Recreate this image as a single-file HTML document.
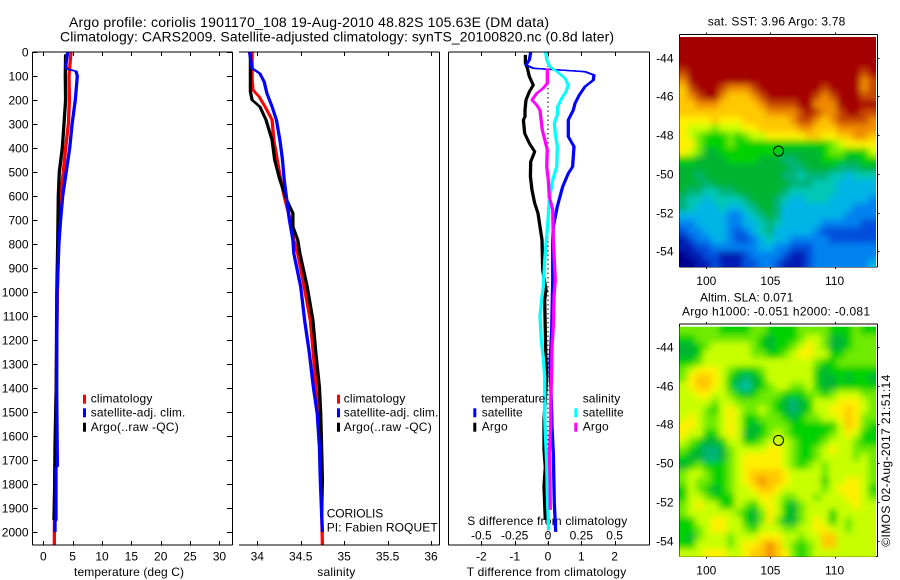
<!DOCTYPE html>
<html>
<head>
<meta charset="utf-8">
<title>Argo profile</title>
<style>
html,body{margin:0;padding:0;background:#fff;}
svg{display:block;}
text{font-family:"Liberation Sans",sans-serif;font-size:12px;fill:#000;}
.title{font-size:14px;}
</style>
</head>
<body>
<svg id="chart" width="900" height="580" viewBox="0 0 900 580" xmlns="http://www.w3.org/2000/svg">
<defs>
<clipPath id="clipMap1"><rect x="679.5" y="37" width="196.5" height="230"/></clipPath>
<clipPath id="clipMap2"><rect x="679.5" y="326.7" width="196.5" height="230"/></clipPath>
<clipPath id="clipP3"><rect x="448" y="52" width="201" height="493"/></clipPath>
<filter id="soft" x="-5%" y="-5%" width="110%" height="110%"><feGaussianBlur stdDeviation="3.2"/></filter>
</defs>
<text class="title" x="69" y="27" textLength="480">Argo profile: coriolis 1901170_108 19-Aug-2010 48.82S 105.63E (DM data)</text>
<text class="title" x="60" y="41.5" textLength="554">Climatology: CARS2009. Satellite-adjusted climatology: synTS_20100820.nc (0.8d later)</text>

<text x="74" y="576" textLength="110">temperature (deg C)</text>
<text x="317.3" y="576" textLength="38">salinity</text>
<text x="466.7" y="576" textLength="159.5">T difference from climatology</text>
<text x="467.3" y="525" textLength="160">S difference from climatology</text>

<g id="series-layer"></g>
<g id="axes-layer"></g>

<g>
<rect x="83" y="394.7" width="3" height="9" fill="#ff0000"/>
<rect x="83" y="408.3" width="3" height="9" fill="#0000ff"/>
<rect x="83" y="422.7" width="3" height="9" fill="#000000"/>
<text x="90.7" y="402.7" textLength="61.7">climatology</text>
<text x="90.7" y="416.7" textLength="94.7">satellite-adj. clim.</text>
<text x="90.7" y="431" textLength="88">Argo(..raw -QC)</text>
</g>
<g>
<rect x="337" y="394.7" width="3" height="9" fill="#ff0000"/>
<rect x="337" y="408.3" width="3" height="9" fill="#0000ff"/>
<rect x="337" y="422.7" width="3" height="9" fill="#000000"/>
<text x="343.7" y="402.7" textLength="61.7">climatology</text>
<text x="343.7" y="416.7" textLength="94.7">satellite-adj. clim.</text>
<text x="343.7" y="431" textLength="88">Argo(..raw -QC)</text>
<text x="326.7" y="517.7" textLength="56.6">CORIOLIS</text>
<text x="326.7" y="531.7" textLength="111">PI: Fabien ROQUET</text>
</g>
<g>
<text x="481.3" y="402.7" textLength="64">temperature</text>
<text x="582.7" y="402.7" textLength="37.5">salinity</text>
<rect x="473.3" y="408.3" width="3" height="9" fill="#0000ff"/>
<rect x="473.3" y="422.7" width="3" height="9" fill="#000000"/>
<rect x="574.3" y="408.3" width="3" height="9" fill="#00ffff"/>
<rect x="574.3" y="422.7" width="3" height="9" fill="#ff00ff"/>
<text x="481.7" y="416.7" textLength="41">satellite</text>
<text x="481.7" y="430.7" textLength="26">Argo</text>
<text x="582.7" y="416.7" textLength="41">satellite</text>
<text x="582.7" y="430.7" textLength="26">Argo</text>
</g>

<text x="707.7" y="25.3" textLength="137.6">sat. SST: 3.96 Argo: 3.78</text>
<text x="700" y="301.7" textLength="93.3">Altim. SLA: 0.071</text>
<text x="682" y="315.3" textLength="188">Argo h1000: -0.051 h2000: -0.081</text>
<g id="map-layer"></g>
<text transform="translate(890,546.7) rotate(-90)" x="0" y="0" textLength="172">©IMOS 02-Aug-2017 21:51:14</text>
</svg>

<script>
// ---------- tick labels ----------
const depthTicks = [0,100,200,300,400,500,600,700,800,900,1000,1100,1200,1300,1400,1500,1600,1700,1800,1900,2000];
const tempTicks = [0,5,10,15,20,25,30];
const salinityTicks = ['34','34.5','35','35.5','36'];
const tDiffTicks = ['-2','-1','0','1','2'];
const sDiffTicks = ['-0.5','-0.25','0','0.25','0.5'];
const lonTicks = [100,105,110];
const latTicks = [-44,-46,-48,-50,-52,-54];

// ---------- temperature panel ----------
const tempClimDepth = [0,100,200,300,400,500,600,700,800,1000,1200,1400,1600,1800,2054];
const tempClim = [4.72,4.38,4.44,4.27,3.8,3.4,2.96,2.75,2.6,2.4,2.3,2.2,2.1,1.95,1.88];
const tempSatDepth = [0,50,70,80,100,200,300,400,500,600,700,800,1000,1200,1400,1600,1725,1730,1950,1955,2000];
const tempSat = [4.15,3.87,3.9,5.57,5.8,5.45,4.9,4.5,3.9,3.3,2.95,2.65,2.35,2.3,2.28,2.35,2.4,2.17,2.17,2.0,2.0];
const tempArgoDepth = [10,100,200,300,400,500,600,700,800,1000,1200,1400,1640,1800,1950];
const tempArgo = [3.8,3.75,3.8,3.53,3.24,2.73,2.56,2.5,2.45,2.3,2.25,2.2,2.0,1.95,1.82];

// ---------- salinity panel ----------
const salClimDepth = [0,115,158,186,228,283,367,450,533,617,700,783,839,978,1117,1256,1395,1506,1700,2054];
const salClim = [33.94,33.94,33.95,34.02,34.09,34.17,34.19,34.23,34.27,34.32,34.38,34.42,34.465,34.54,34.61,34.645,34.675,34.7,34.73,34.75];
const salSatDepth = [0,68,90,124,172,228,283,367,450,533,617,700,783,839,978,1117,1256,1395,1506,1644,1783,1922,2000];
const salSat = [33.91,33.94,34.03,34.08,34.11,34.17,34.22,34.26,34.29,34.31,34.34,34.37,34.41,34.42,34.5,34.545,34.6,34.645,34.69,34.715,34.725,34.74,34.75];
const salArgoDepth = [10,165,200,228,283,367,450,533,617,672,728,783,839,978,1117,1256,1395,1506,1644,1783,1922];
const salArgo = [33.92,33.92,33.94,34.03,34.10,34.17,34.20,34.26,34.34,34.41,34.41,34.465,34.49,34.575,34.64,34.675,34.715,34.73,34.74,34.75,34.74];

// ---------- difference panel ----------
const tDiffSatDepth = [0,33,54,68,75,82,96,117,144,179,214,242,283,353,394,478,506,561,644,728,783,950,1158,1297,1504,1561,1672,1879,1999];
const tDiffSat = [-0.52,-0.56,-0.66,-0.44,0.36,1.11,1.38,1.36,1.11,0.94,0.81,0.76,0.61,0.61,0.78,0.74,0.61,0.44,0.28,0.16,0.14,0.14,0.11,0.06,0.11,0.12,0.16,0.19,0.23];
const tDiffArgoDepth = [12,47,68,103,138,165,200,242,269,283,339,381,415,457,519,575,630,672,783,908,992,1033,1254,1353,1533,1658,1730,1811,1950];
const tDiffArgo = [-0.68,-0.68,-0.62,-0.56,-0.44,-0.56,-0.66,-0.69,-0.69,-0.74,-0.7,-0.56,-0.4,-0.52,-0.53,-0.48,-0.4,-0.3,-0.18,-0.16,-0.06,-0.1,-0.07,-0.04,-0.12,-0.12,-0.08,-0.12,-0.08];
const sDiffSatDepth = [0,33,62,82,110,138,165,193,228,262,297,339,394,478,533,617,700,783,867,978,1019,1103,1200,1275,1353,1519,1589,1714,1879,1992];
const sDiffSat = [-0.017,-0.01,0.015,0.07,0.128,0.152,0.135,0.103,0.073,0.07,0.047,0.055,0.07,0.065,0.035,0.01,0,-0.012,-0.025,-0.035,-0.045,-0.06,-0.05,-0.035,-0.025,-0.025,-0.02,-0.01,-0.003,0.005];
const sDiffArgoDepth = [68,130,151,172,200,221,242,283,325,367,408,478,533,603,658,783,950,1019,1144,1228,1325,1436,1561,1672,1769,1908];
const sDiffArgo = [-0.005,-0.005,-0.035,-0.085,-0.12,-0.085,-0.06,-0.052,-0.043,-0.023,-0.005,-0.01,0.002,0.01,0.035,0.04,0.055,0.045,0.04,0.03,0.028,0.022,0.02,0.01,0.015,0.017];

// ---------- map grids (colour-level values) ----------
const sstGrid = [
[15,15,15,15,15,15,15,15,15,15,15,15,15,15,15,15,15,15,15,15,15,15,15,15,15],
[15,15,15,15,15,15,15,15,15,15,15,15,15,15,15,15,15,15,15,15,15,15,15,15,15],
[15,15,15,15,15,15,15,15,15,15,15,15,15,15,15,15,15,15,15,15,15,15,15,15,15],
[15,15,15,15,15,15,15,15,15,15,15,15,15,15,15,15,15,15,15,15,15,15,15,15,15],
[14,15,15,15,15,15,15,15,15,15,15,15,15,15,15,15,15,15,15,15,15,15,15,14,15],
[13,15,15,15,15,15,15,15,15,15,15,15,15,15,15,15,15,15,15,15,15,15,15,13,14],
[12,14,15,15,15,14,13,13,13,14,15,15,15,15,15,15,15,15,14,15,15,15,15,13,14],
[12,13,14,15,15,13,12,12,12,13,14,15,15,15,15,15,15,14,13,14,15,15,15,14,14],
[12,12,13,13,13,12,12,12,12,12,13,14,14,14,14,15,15,13,13,13,15,15,15,15,15],
[12,12,12,12,12,12,12,12,12,12,12,13,13,13,13,14,15,14,13,13,14,15,15,14,14],
[11,11,11,11,12,11,11,11,12,12,12,12,12,12,13,14,14,13,12,13,14,14,14,14,13],
[11,10,10,10,9,10,10,10,11,11,12,12,12,12,12,13,13,12,12,12,13,13,13,13,13],
[11,10,9,8,8,8,9,8,9,10,10,11,11,11,11,11,12,12,11,11,12,12,13,13,12],
[11,11,9,8,8,8,9,8,8,8,8,8,8,8,8,8,8,8,8,9,10,11,11,11,11],
[11,10,9,7,7,8,8,8,8,8,8,8,8,7,7,7,7,7,8,9,9,8,8,8,10],
[8,8,7,7,7,7,8,8,8,8,7,7,7,6,6,7,7,7,8,8,8,7,7,8,8],
[7,7,7,7,7,7,7,7,7,7,7,7,7,7,6,6,7,7,7,7,6,6,6,7,7],
[7,7,6,7,7,7,7,7,7,7,7,7,7,6,6,5,6,6,6,5,5,4,5,5,5],
[7,7,7,6,7,7,7,7,7,7,7,7,7,7,6,6,6,5,5,5,4,4,4,4,4],
[7,6,6,5,5,6,6,7,7,7,7,7,7,6,5,5,5,5,5,5,4,4,4,4,4],
[6,5,5,4,5,5,5,5,6,7,7,7,6,5,4,4,5,5,5,4,4,4,4,4,3],
[6,5,4,4,4,5,4,4,5,6,7,7,6,4,4,4,4,4,4,4,4,4,3,3,3],
[4,4,4,4,4,4,3,3,4,5,6,7,6,4,4,4,4,4,4,4,4,3,3,3,3],
[3,3,4,4,4,4,3,3,4,4,5,6,5,4,4,4,4,4,3,3,3,3,3,2,2],
[2,3,3,4,4,4,3,2,3,4,5,6,4,4,4,4,4,3,2,2,2,2,2,2,2],
[1,2,3,3,4,4,3,2,2,3,4,5,4,4,3,3,3,3,3,2,2,2,2,2,2],
[1,1,2,2,3,3,3,3,3,3,4,4,3,3,2,2,2,3,3,3,3,3,3,3,3],
[0,1,1,2,2,1,1,1,2,3,3,3,3,2,1,1,2,3,3,3,3,3,3,3,3],
[0,0,1,1,2,1,1,1,2,2,3,3,2,1,1,1,2,3,3,3,3,3,3,3,4]
];
const slaGrid = [
[9,9,9,9,9,8,8,8,8,9,9,8,8,8,8,9,9,9,9,8,8,8,9,8,8],
[8,8,9,9,9,9,9,9,9,9,8,7,8,8,8,9,10,10,9,7,7,8,9,9,9],
[7,7,8,9,10,10,10,10,10,9,8,7,8,8,9,10,11,10,9,7,7,8,9,9,9],
[7,7,8,10,10,10,10,10,10,9,9,8,8,9,10,11,11,10,10,8,8,9,9,9,9],
[8,8,9,10,10,10,10,10,10,10,10,10,10,10,10,10,10,9,8,8,9,9,9,9,9],
[9,10,11,11,11,10,9,8,8,8,9,10,10,10,10,10,10,8,7,8,8,8,8,8,8],
[9,11,12,12,11,10,8,7,6,7,8,10,10,10,10,10,10,8,7,7,8,7,8,8,7],
[10,11,12,12,11,10,8,6,5,7,8,9,10,10,9,9,10,8,7,7,8,8,8,8,8],
[10,10,11,11,10,10,9,8,7,8,9,9,9,8,8,8,9,9,8,9,10,10,10,9,9],
[10,10,10,10,9,10,10,9,9,9,9,9,8,7,6,7,8,10,10,10,11,11,11,10,9],
[10,10,10,9,8,10,11,10,9,9,10,9,8,7,6,7,8,10,10,11,11,12,11,10,9],
[10,11,10,9,9,10,11,10,8,8,9,9,9,8,7,8,9,9,10,10,11,12,11,9,9],
[11,11,10,9,9,10,11,10,8,7,8,9,9,9,8,8,8,8,8,8,10,12,11,9,8],
[11,10,10,8,8,10,11,10,7,7,8,9,10,9,8,8,8,8,8,9,10,11,10,8,8],
[10,9,8,7,7,8,10,10,8,8,9,10,10,10,9,8,8,8,9,10,10,10,9,8,8],
[9,8,7,6,6,7,9,10,10,10,10,11,11,10,9,8,8,9,10,11,10,10,9,9,9],
[8,7,7,6,6,7,9,10,11,11,11,11,11,10,9,8,8,9,10,10,10,10,9,10,9],
[7,8,9,8,8,8,9,10,11,11,11,11,11,10,9,8,9,10,9,10,10,10,10,10,9],
[9,10,10,9,8,8,9,10,11,12,12,12,12,11,10,10,10,10,9,10,10,10,10,10,9],
[9,10,9,9,8,8,9,10,11,12,13,12,12,11,10,10,10,10,8,10,10,11,11,10,9],
[8,10,9,8,7,8,9,10,10,11,12,12,11,10,10,10,10,10,9,10,11,11,11,10,8],
[8,10,10,9,8,8,8,10,10,10,11,11,10,9,9,10,10,9,10,10,10,11,11,10,9],
[9,10,11,10,10,8,8,10,9,8,10,11,10,8,7,9,10,10,10,10,10,10,11,10,10],
[9,10,10,10,10,10,10,9,8,7,9,11,10,8,7,9,10,10,10,8,10,10,10,10,10],
[8,8,10,10,11,11,10,10,8,7,9,11,9,7,7,9,10,11,10,8,10,9,10,10,10],
[8,8,9,10,11,11,10,10,9,8,10,10,10,9,9,10,10,11,11,10,10,9,10,10,10],
[8,7,9,10,10,10,9,10,10,10,11,11,11,10,10,9,10,10,12,12,10,10,10,10,10],
[8,8,10,10,10,10,9,10,11,11,12,13,12,10,9,8,9,10,12,12,10,10,10,10,10],
[10,10,10,11,11,11,10,10,11,12,12,13,12,11,9,8,9,10,10,10,10,10,10,10,10]
];
const profileLon = [105.63];
const profileLat = [-48.82];

// ---------- drawing ----------
const NS = 'http://www.w3.org/2000/svg';
const seriesLayer = document.getElementById('series-layer');
const axesLayer = document.getElementById('axes-layer');
const mapLayer = document.getElementById('map-layer');

function make(tag, attrs, parent) {
  const el = document.createElementNS(NS, tag);
  for (const k in attrs) el.setAttribute(k, attrs[k]);
  parent.appendChild(el);
  return el;
}
function yDepth(d) { return 52 + d * 0.24; }
function xTemp(v) { return 43.3 + v * 5.87; }
function xSal(v) { return 257.3 + (v - 34) * 86.85; }
function xTDiff(v) { return 548 + v * 33.3; }
function xSDiff(v) { return 548 + v * 133.3; }

// The original plotter uses a pen that is wide in x only: three offset strokes
// give thick near-vertical runs and thin near-horizontal runs.
function drawLine(xs, ds, xFn, color, name, clip) {
  const group = make('g', {}, seriesLayer);
  
  
  if (clip) group.setAttribute('clip-path', clip);
  [-1, 0, 1].forEach(function (off) {
    const pts = xs.map(function (v, i) { return (xFn(v) + off).toFixed(1) + ',' + yDepth(ds[i]).toFixed(1); }).join(' ');
    const line = make('polyline', {points: pts, fill: 'none', stroke: color, 'stroke-width': 1.3, 'stroke-linejoin': 'round'}, group);
    
    
  });
}
function seg(x1, y1, x2, y2, name) {
  const s = make('line', {x1: x1, y1: y1, x2: x2, y2: y2, stroke: '#000', 'stroke-width': 1, 'shape-rendering': 'crispEdges'}, axesLayer);
  
  
  return s;
}
function label(parent, x, y, txt, anchor, name) {
  const t = make('text', {x: x, y: y, 'text-anchor': anchor}, parent);
  t.textContent = txt;
  
  
}

// zero line in the difference panel
const zero = make('line', {x1: xTDiff(0), y1: 52, x2: xTDiff(0), y2: 545, stroke: '#000', 'stroke-width': 1, 'stroke-dasharray': '1.5 3'}, seriesLayer);



drawLine(tempClim, tempClimDepth, xTemp, '#ff0000', 'temperature-climatology-line');
drawLine(tempArgo, tempArgoDepth, xTemp, '#000000', 'temperature-argo-line');
drawLine(tempSat, tempSatDepth, xTemp, '#0000ff', 'temperature-satellite-line');
drawLine(salClim, salClimDepth, xSal, '#ff0000', 'salinity-climatology-line');
drawLine(salArgo, salArgoDepth, xSal, '#000000', 'salinity-argo-line');
drawLine(salSat, salSatDepth, xSal, '#0000ff', 'salinity-satellite-line');
drawLine(tDiffArgo, tDiffArgoDepth, xTDiff, '#000000', 't-difference-argo-line', 'url(#clipP3)');
drawLine(tDiffSat, tDiffSatDepth, xTDiff, '#0000ff', 't-difference-satellite-line', 'url(#clipP3)');
drawLine(sDiffSat, sDiffSatDepth, xSDiff, '#00ffff', 's-difference-satellite-line', 'url(#clipP3)');
drawLine(sDiffArgo, sDiffArgoDepth, xSDiff, '#ff00ff', 's-difference-argo-line', 'url(#clipP3)');

// panel frames
seg(32.5, 52, 232.5, 52, 'temperature-top-axis');
seg(32.5, 545, 232.5, 545, 'temperature-bottom-axis');
seg(32.5, 52, 32.5, 545, 'temperature-left-axis');
seg(232.5, 52, 232.5, 545, 'temperature-right-axis');
seg(239, 52, 439.5, 52, 'salinity-top-axis');
seg(239, 545, 439.5, 545, 'salinity-bottom-axis');
seg(439.5, 52, 439.5, 545, 'salinity-right-axis');
seg(448.5, 52, 649.5, 52, 'difference-top-axis');
seg(448.5, 545, 649.5, 545, 'difference-bottom-axis');
seg(448.5, 52, 448.5, 545, 'difference-left-axis');
seg(649.5, 52, 649.5, 545, 'difference-right-axis');

depthTicks.forEach(function (d) {
  const y = Math.round(yDepth(d)) + 0.5;
  seg(32.5, y, 37.5, y, 'depth-tick');
  seg(227, y, 232.5, y, 'depth-tick');
  label(axesLayer, 28.5, y + 4, String(d), 'end', 'depth-tick-label');
});
tempTicks.forEach(function (v) {
  const x = Math.round(xTemp(v)) + 0.5;
  seg(x, 52, x, 56, 'temperature-tick');
  seg(x, 541, x, 545, 'temperature-tick');
  label(axesLayer, xTemp(v), 560.5, String(v), 'middle', 'temperature-tick-label');
});
salinityTicks.forEach(function (v) {
  const x = Math.round(xSal(parseFloat(v))) + 0.5;
  seg(x, 52, x, 56, 'salinity-tick');
  seg(x, 541, x, 545, 'salinity-tick');
  label(axesLayer, xSal(parseFloat(v)), 560.5, v, 'middle', 'salinity-tick-label');
});
tDiffTicks.forEach(function (v) {
  const x = Math.round(xTDiff(parseFloat(v))) + 0.5;
  seg(x, 52, x, 56, 't-difference-tick');
  seg(x, 541, x, 545, 't-difference-tick');
  label(axesLayer, xTDiff(parseFloat(v)), 560.5, v, 'middle', 't-difference-tick-label');
});
sDiffTicks.forEach(function (v) {
  label(axesLayer, xSDiff(parseFloat(v)), 539.3, v, 'middle', 's-difference-tick-label');
});

// maps
const levelColors = ['#00008c','#001eb4','#0050dc','#0082f0','#00b4e6','#00c8b4','#00b478','#00b432','#00d200','#6eeb00','#c8ff00','#fff000','#ffc800','#f08c00','#c84600','#a50000'];

function drawMap(grid, top, clipId, lat44, name) {
  const g = make('g', {'clip-path': 'url(#' + clipId + ')'}, mapLayer);
  
  
  const inner = make('g', {filter: 'url(#soft)'}, g);
  const left = 679.5, w = 196.5, h = 230;
  const rows = grid.length, cols = grid[0].length;
  const cw = w / cols, ch = h / rows;
  grid.forEach(function (row, r) {
    row.forEach(function (v, c) {
      const x0 = left + c * cw - (c === 0 ? 12 : 0);
      const y0 = top + r * ch - (r === 0 ? 12 : 0);
      const x1 = left + (c + 1) * cw + (c === cols - 1 ? 12 : 0.4);
      const y1 = top + (r + 1) * ch + (r === rows - 1 ? 12 : 0.4);
      const cell = make('rect', {x: x0.toFixed(2), y: y0.toFixed(2), width: (x1 - x0).toFixed(2), height: (y1 - y0).toFixed(2), fill: levelColors[v]}, inner);
      
      
    });
  });
  const xLon = function (lon) { return 706.3 + (lon - 100) * 12.83; };
  const yLat = function (lat) { return lat44 + (-44 - lat) * 19.37; };
  const frameTop = top - 2.5, frameBot = top + 230;
  seg(679.5, frameTop, 877.5, frameTop, 'map-top-axis');
  seg(679.5, frameBot, 877.5, frameBot, 'map-bottom-axis');
  seg(679.5, frameTop, 679.5, frameBot, 'map-left-axis');
  seg(877.5, frameTop, 877.5, frameBot, 'map-right-axis');
  lonTicks.forEach(function (lon) {
    const x = Math.round(xLon(lon)) + 0.5;
    seg(x, frameTop - 2, x, frameTop, 'map-lon-tick');
    seg(x, frameBot, x, frameBot + 2, 'map-lon-tick');
    label(mapLayer, xLon(lon), frameBot + 18, String(lon), 'middle', 'map-lon-label');
  });
  latTicks.forEach(function (lat) {
    const y = Math.round(yLat(lat)) + 0.5;
    seg(877.5, y, 879.5, y, 'map-lat-tick');
    label(mapLayer, 673.5, y + 4, String(lat), 'end', 'map-lat-label');
  });
  profileLon.forEach(function (lon, i) {
    const c = make('circle', {cx: xLon(lon), cy: yLat(profileLat[i]), r: 5, fill: 'none', stroke: '#000', 'stroke-width': 1}, mapLayer);
    
    
  });
}
drawMap(sstGrid, 37, 'clipMap1', 57.7, 'sst-map');
drawMap(slaGrid, 326.7, 'clipMap2', 347, 'sla-map');
</script>
</body>
</html>
